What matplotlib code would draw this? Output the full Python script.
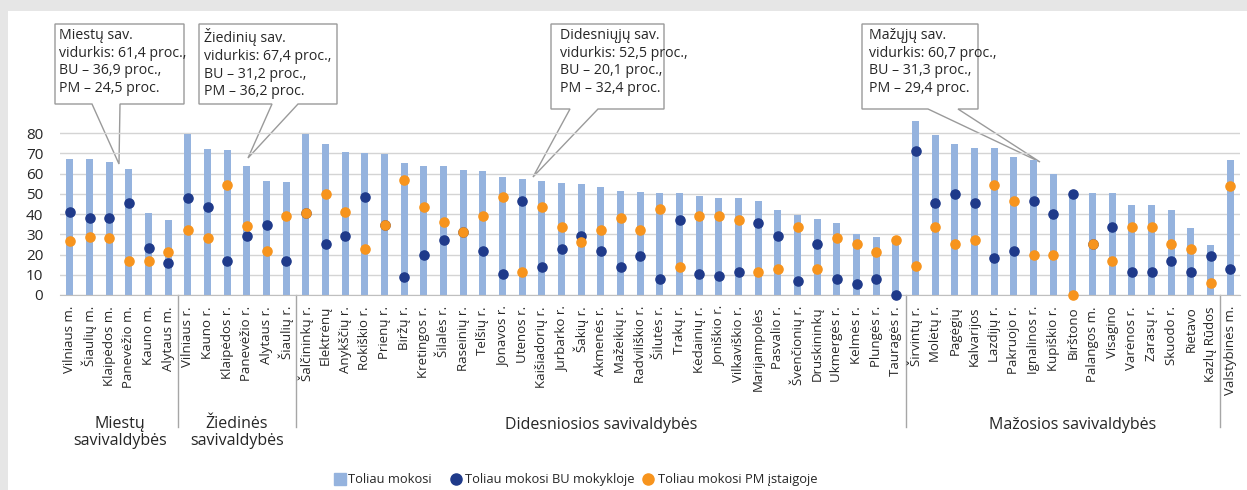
import numpy as np
import matplotlib.pyplot as plt
from matplotlib.patches import Rectangle, Polygon

plt.rcParams['font.family'] = ['Open Sans', 'DejaVu Sans']

names = ["Vilniaus m.", "Šiaulių m.", "Klaipėdos m.", "Panevėžio m.", "Kauno m.", "Alytaus m.",
         "Vilniaus r.", "Kauno r.", "Klaipėdos r.", "Panevėžio r.", "Alytaus r.", "Šiaulių r.",
         "Šalčininkų r.", "Elektrėnų", "Anykščių r.", "Rokiškio r.", "Prienų r.", "Biržų r.",
         "Kretingos r.", "Šilalės r.", "Raseinių r.", "Telšių r.", "Jonavos r.", "Utenos r.",
         "Kaišiadorių r.", "Jurbarko r.", "Šakių r.", "Akmenės r.", "Mažeikių r.", "Radviliškio r.",
         "Šilutės r.", "Trakų r.", "Kėdainių r.", "Joniškio r.", "Vilkaviškio r.", "Marijampolės",
         "Pasvalio r.", "Švenčionių r.", "Druskininkų", "Ukmergės r.", "Kelmės r.", "Plungės r.",
         "Tauragės r.",
         "Širvintų r.", "Molėtų r.", "Pagėgių", "Kalvarijos", "Lazdijų r.", "Pakruojo r.",
         "Ignalinos r.", "Kupiškio r.", "Birštono", "Palangos m.", "Visagino", "Varėnos r.",
         "Zarasų r.", "Skuodo r.", "Rietavo", "Kazlų Rūdos",
         "Valstybinės m."]

toliau = [67.3, 67.3, 65.8, 62.4, 40.6, 37.1,
          79.7, 72.1, 71.5, 63.9, 56.4, 55.8,
          79.7, 74.8, 70.6, 70.1, 69.5, 65.2, 63.9, 63.9, 61.7, 61.1, 58.4, 57.6,
          56.3, 55.6, 55.0, 53.5, 51.5, 50.8, 50.2, 50.2, 48.8, 48.0, 48.0, 46.7,
          42.1, 39.8, 37.8, 35.6, 30.2, 28.9, 27.4,
          85.8, 78.9, 74.8, 72.8, 72.8, 68.0, 66.7, 59.7, 49.8, 50.2, 50.2, 44.6,
          44.6, 41.9, 33.0, 24.8,
          66.7]

bu = [40.9, 38.3, 38.3, 45.7, 23.3, 15.7,
      47.9, 43.7, 17.0, 29.4, 34.8, 17.0,
      40.4, 25.2, 29.4, 48.5, 34.8, 8.9, 19.8, 27.4, 31.4, 21.8, 10.2, 46.5,
      13.7, 22.6, 29.4, 21.8, 13.7, 19.1, 8.1, 37.0, 10.2, 9.6, 11.6, 35.5,
      29.4, 6.8, 25.2, 8.1, 5.4, 8.1, 0.0,
      71.1, 45.7, 49.8, 45.7, 18.5, 21.8, 46.5, 40.3, 49.8, 25.2, 33.5, 11.6,
      11.6, 17.0, 11.6, 19.1,
      12.9]

pm = [26.6, 28.7, 28.0, 17.0, 17.0, 21.1,
      32.2, 28.0, 54.6, 34.2, 21.8, 38.9,
      40.4, 49.8, 40.9, 22.6, 34.8, 56.8, 43.7, 36.1, 31.4, 38.9, 48.5, 11.6,
      43.7, 33.5, 26.1, 32.2, 38.3, 32.2, 42.4, 13.7, 38.9, 38.9, 37.0, 11.6,
      12.9, 33.5, 12.9, 28.0, 25.2, 21.1, 27.4,
      14.4, 33.5, 25.2, 27.4, 54.6, 46.5, 19.8, 19.8, 0.0, 25.2, 17.0, 33.5,
      33.5, 25.2, 22.6, 6.1,
      54.0]

groups = ["Miestų\nsavivaldybės", "Žiedinės\nsavivaldybės", "Didesniosios savivaldybės",
          "Mažosios savivaldybės"]

callouts = ["Miestų sav.\nvidurkis: 61,4 proc.,\nBU – 36,9 proc.,\nPM – 24,5 proc.",
            "Žiedinių sav.\nvidurkis: 67,4 proc.,\nBU – 31,2 proc.,\nPM – 36,2 proc.",
            "Didesniųjų sav.\nvidurkis: 52,5 proc.,\nBU – 20,1 proc.,\nPM – 32,4 proc.",
            "Mažųjų sav.\nvidurkis: 60,7 proc.,\nBU – 31,3 proc.,\nPM – 29,4 proc."]

legend_labels = ["Toliau mokosi", "Toliau mokosi BU mokykloje", "Toliau mokosi PM įstaigoje"]

c_bar = '#95b3de'
c_bu = '#1f3a8a'
c_pm = '#f7941d'
c_txt = '#262626'
W, H = 1247, 490

fig = plt.figure(figsize=(W / 100, H / 100), dpi=100)

# pixel overlay for the frame, callouts, group labels and legend
ov = fig.add_axes([0, 0, 1, 1], zorder=0)
ov.set_xlim(0, W)
ov.set_ylim(H, 0)
ov.axis('off')
fig.patch.set_facecolor('#e6e6e6')
ov.add_patch(Rectangle((8, 11), W, H, facecolor='white', edgecolor='none'))

ax = fig.add_axes([60 / W, 195 / H, 1180 / W, 182 / H], zorder=1)
ax.set_facecolor('none')
x = np.arange(len(names))
ax.bar(x, toliau, width=0.34, color=c_bar, zorder=2)
ax.plot(x, bu, 'o', color=c_bu, ms=6.6, zorder=3, clip_on=False)
ax.plot(x, pm, 'o', color=c_pm, ms=6.6, zorder=4, clip_on=False)

ax.set_xlim(-0.5, len(names) - 0.5)
ax.set_ylim(0, 90)
ax.set_yticks(np.arange(0, 81, 10))
ax.set_xticks(x)
ax.set_xticklabels(names, rotation=90, fontsize=9.5, color=c_txt)
ax.tick_params(axis='y', length=0, pad=12, labelsize=11, labelcolor=c_txt)
ax.tick_params(axis='x', length=0, pad=8)
ax.grid(axis='y', color='#d4d4d4', lw=1, zorder=0)
for s in ['top', 'left', 'right']:
    ax.spines[s].set_visible(False)
ax.spines['bottom'].set_color('#bfbfbf')

# group separators and labels
for i in [5.5, 11.5, 42.5, 58.5]:
    px = 60 + (i + 0.5) * 1180 / 60
    ov.plot([px, px], [295, 427], color='#a6a6a6', lw=1)
ov.text(120, 416, groups[0], ha='center', va='top', fontsize=11.5, color=c_txt, linespacing=1.1)
ov.text(237, 416, groups[1], ha='center', va='top', fontsize=11.5, color=c_txt, linespacing=1.1)
ov.text(601, 425, groups[2], ha='center', va='center', fontsize=11.5, color=c_txt)
ov.text(1073, 425, groups[3], ha='center', va='center', fontsize=11.5, color=c_txt)

# callout boxes: (x0, y0, x1, y1, wedge left, wedge right, tip, text x)
boxes = [(55, 24, 184, 104, 92, 120, (119, 164), 59),
         (199, 24, 337, 104, 272, 298, (248, 158), 204),
         (551, 24, 664, 109, 570, 598, (533, 177), 560),
         (862, 24, 978, 109, 928, 958, (1040, 162), 869)]
for (x0, y0, x1, y1, wl, wr, tip, tx), txt in zip(boxes, callouts):
    pts = [(x0, y0), (x1, y0), (x1, y1), (wr, y1), tip, (wl, y1), (x0, y1)]
    ov.add_patch(Polygon(pts, closed=True, facecolor='white', edgecolor='#9a9a9a', lw=1))
    ov.text(tx, y0 + 4, txt, ha='left', va='top', fontsize=10.2, color=c_txt, linespacing=1.25)

# legend
ov.plot(340, 479, 's', color=c_bar, ms=8)
ov.plot(456, 479, 'o', color=c_bu, ms=8)
ov.plot(648, 479, 'o', color=c_pm, ms=8)
for lx, lab in zip([348, 465, 658], legend_labels):
    ov.text(lx, 479, lab, ha='left', va='center', fontsize=9.3, color=c_txt)

fig.savefig('out.png', dpi=100, facecolor=fig.get_facecolor())
